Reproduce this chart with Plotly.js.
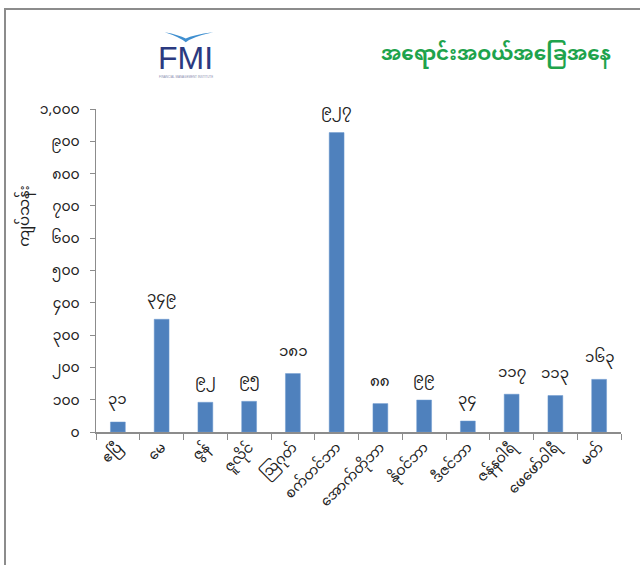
<!DOCTYPE html>
<html>
<head>
<meta charset="utf-8">
<script src="https://cdn.plot.ly/plotly-3.0.1.min.js"></script>
<style>
  html, body { margin: 0; padding: 0; background: #fff; }
  #wrap { position: relative; width: 640px; height: 565px; }
  #chart { position: absolute; left: 0; top: 0; width: 640px; height: 565px; }
  #frame { position: absolute; left: 4px; top: 8px; width: 640px; height: 560px;
           border-top: 2px solid #8c8c8c; border-left: 2px solid #8c8c8c; pointer-events: none; }
</style>
</head>
<body>
<div id="wrap">
  <div id="chart"></div>
  <div id="frame"></div>
</div>
<script>
// Months (April .. March)
const months = ["ဧပြီ", "မေ", "ဇွန်", "ဇူလိုင်", "ဩဂုတ်", "စက်တင်ဘာ",
                "အောက်တိုဘာ", "နိုဝင်ဘာ", "ဒီဇင်ဘာ", "ဇန်နဝါရီ", "ဖေဖော်ဝါရီ", "မတ်"];
// Trading value (kyat million)
const values = [31, 349, 92, 95, 181, 927, 88, 99, 34, 117, 113, 163];
const tickVals = [0, 100, 200, 300, 400, 500, 600, 700, 800, 900, 1000];
const tickText = ["၀", "၁၀၀", "၂၀၀", "၃၀၀", "၄၀၀", "၅၀၀", "၆၀၀", "၇၀၀", "၈၀၀", "၉၀၀", "၁,၀၀၀"];
const chartTitle = "အရောင်းအဝယ်အခြေအနေ";
const yTitle = "ကျပ်သန်း";

const myDigits = ["၀","၁","၂","၃","၄","၅","၆","၇","၈","၉"];
const toMy = n => String(n).split("").map(c => /[0-9]/.test(c) ? myDigits[+c] : c).join("");

const FONT = "'Noto Sans Myanmar', 'Padauk', 'Myanmar Text', 'Noto Sans', sans-serif";

const trace = {
  type: "bar",
  x: months,
  y: values,
  marker: { color: "#4f81bd", line: { color: "#6f9bd0", width: 0.5 } },
  hoverinfo: "skip"
};

const valueLabels = months.map((m, i) => ({
  x: m, y: values[i], xref: "x", yref: "y",
  text: toMy(values[i]), showarrow: false,
  xanchor: "center", yanchor: "middle", yshift: 21,
  font: { family: FONT, size: 15, color: "#222" }
}));

const layout = {
  width: 640, height: 565,
  margin: { l: 96, r: 19, t: 109, b: 133 },
  paper_bgcolor: "#fff", plot_bgcolor: "#fff",
  bargap: 0.66,
  showlegend: false,
  font: { family: FONT, size: 13, color: "#222" },
  xaxis: {
    type: "category",
    tickson: "boundaries",
    ticks: "outside", ticklen: 6, tickcolor: "#8c8c8c", tickwidth: 1,
    showline: true, linecolor: "#8c8c8c", linewidth: 1.5,
    showgrid: false, zeroline: false,
    tickangle: -45,
    tickfont: { family: FONT, size: 14, color: "#222" }
  },
  yaxis: {
    range: [0, 1000],
    tickvals: tickVals, ticktext: tickText,
    ticks: "outside", ticklen: 5, tickcolor: "#8c8c8c", tickwidth: 1,
    ticklabelstandoff: 7,
    showline: true, linecolor: "#8c8c8c", linewidth: 1.5,
    showgrid: false, zeroline: false,
    tickfont: { family: FONT, size: 14, color: "#222" }
  },
  annotations: valueLabels.concat([
    { text: "<b>" + chartTitle + "</b>", xref: "paper", yref: "paper", x: 0.985, y: 1.165,
      xanchor: "right", yanchor: "middle", showarrow: false,
      font: { family: FONT, size: 20, color: "#1ea34c" } },
    { text: yTitle, xref: "paper", yref: "paper", x: -0.135, y: 0.67,
      xanchor: "center", yanchor: "middle", textangle: -90, showarrow: false,
      font: { family: FONT, size: 15, color: "#222" } },
    { text: "FMI", xref: "paper", yref: "paper", x: 0.171, y: 1.158,
      xanchor: "center", yanchor: "middle", showarrow: false,
      font: { family: "Liberation Sans, Arial, sans-serif", size: 32, color: "#2b3a80" } },
    { text: "FINANCIAL MANAGEMENT INSTITUTE", xref: "paper", yref: "paper", x: 0.171, y: 1.098,
      xanchor: "center", yanchor: "middle", showarrow: false,
      font: { family: "Liberation Sans, Arial, sans-serif", size: 3, color: "#8a90b0" } }
  ]),
  shapes: [
    { type: "path", xref: "paper", yref: "paper",
      path: "M 0.131 1.238 Q 0.158 1.224 0.171 1.207 Q 0.184 1.224 0.223 1.238 Q 0.184 1.23 0.171 1.218 Q 0.158 1.23 0.131 1.238 Z",
      fillcolor: "#3f8fd0", line: { width: 0 } }
  ]
};

Plotly.newPlot("chart", [trace], layout, { displayModeBar: false, staticPlot: true });
</script>
</body>
</html>
